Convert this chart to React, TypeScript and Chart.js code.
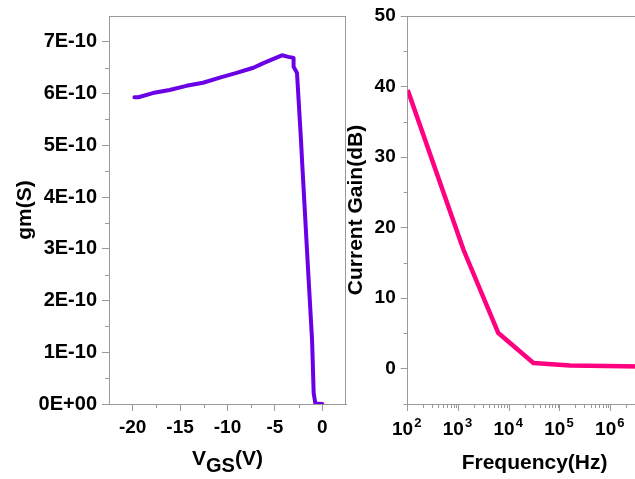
import React, { useEffect, useRef } from 'react';
import { Chart, registerables } from 'chart.js';

Chart.register(...registerables);

// ---------- data: left panel (transconductance vs gate voltage) ----------
const vgs = [-19.82, -19.4, -17.88, -16.11, -14.34, -12.58, -10.81, -9.04, -7.27, -6.21, -5.15, -4.26, -3.56, -3.03, -3.03, -2.67, -2.25, -2.14, -1.44, -1.08, -0.91, -0.73, 0];
const gm = [5.93e-10, 5.93e-10, 6.01e-10, 6.07e-10, 6.15e-10, 6.21e-10, 6.31e-10, 6.4e-10, 6.5e-10, 6.59e-10, 6.67e-10, 6.74e-10, 6.71e-10, 6.69e-10, 6.52e-10, 6.4e-10, 5.11e-10, 4.72e-10, 2.4e-10, 1.24e-10, 0.21e-10, 0.01e-10, 0];
const vgsTicks = [-20, -15, -10, -5, 0];
const vgsTickLabels = ['-20', '-15', '-10', '-5', '0'];
const vgsMinorTicks = [-17.5, -12.5, -7.5, -2.5];
const gmTicks = [0, 1e-10, 2e-10, 3e-10, 4e-10, 5e-10, 6e-10, 7e-10];
const gmTickLabels = ['0E+00', '1E-10', '2E-10', '3E-10', '4E-10', '5E-10', '6E-10', '7E-10'];
const gmMinorTicks = [0.5e-10, 1.5e-10, 2.5e-10, 3.5e-10, 4.5e-10, 5.5e-10, 6.5e-10];

// ---------- data: right panel (current gain vs frequency) ----------
const freq = [100, 1250, 6100, 30000, 158000, 800000, 4000000];
const gain = [39.5, 16.9, 5.06, 0.8, 0.47, 0.38, 0.32];
const freqTicks = [1e2, 1e3, 1e4, 1e5, 1e6, 1e7];
const freqTickBase = ['10', '10', '10', '10', '10', '10'];
const freqTickExp = ['2', '3', '4', '5', '6', '7'];
const freqMinorTicks = [
  200, 300, 400, 500, 600, 700, 800, 900,
  2000, 3000, 4000, 5000, 6000, 7000, 8000, 9000,
  20000, 30000, 40000, 50000, 60000, 70000, 80000, 90000,
  200000, 300000, 400000, 500000, 600000, 700000, 800000, 900000,
  2000000, 3000000, 4000000, 5000000, 6000000, 7000000, 8000000, 9000000,
];
const gainTicks = [0, 10, 20, 30, 40, 50];
const gainTickLabels = ['0', '10', '20', '30', '40', '50'];
const gainMinorTicks = [-5, 5, 15, 25, 35, 45];

// ---------- styles ----------
const FAMILY = "'Liberation Sans', Arial, sans-serif";
const FRAME = '#9a9a9a';
const PURPLE = '#6a00e6';
const PINK = '#ff0080';
const TICK_FONT = { family: FAMILY, size: 19, weight: 'bold' as const };
const YTICK_FONT = { family: FAMILY, size: 20, weight: 'bold' as const };
const TITLE_FONT = { family: FAMILY, size: 21, weight: 'bold' as const };

function framePlugin(sides: { top: boolean; right: boolean }, minorX: number[], minorY: number[]) {
  return {
    id: 'frameMinor',
    afterDraw(chart: any) {
      const { ctx, chartArea: a, scales } = chart;
      ctx.save();
      ctx.strokeStyle = FRAME;
      ctx.lineWidth = 1;
      ctx.beginPath();
      if (sides.top) {
        ctx.moveTo(a.left, Math.round(a.top) + 0.5);
        ctx.lineTo(a.right, Math.round(a.top) + 0.5);
      }
      if (sides.right) {
        ctx.moveTo(Math.round(a.right) - 0.5, a.top);
        ctx.lineTo(Math.round(a.right) - 0.5, a.bottom);
      }
      for (const v of minorX) {
        const px = Math.round(scales.x.getPixelForValue(v)) + 0.5;
        ctx.moveTo(px, a.bottom);
        ctx.lineTo(px, a.bottom + 4);
      }
      for (const v of minorY) {
        const py = Math.round(scales.y.getPixelForValue(v)) + 0.5;
        ctx.moveTo(a.left - 4, py);
        ctx.lineTo(a.left, py);
      }
      ctx.stroke();
      ctx.restore();
    },
  };
}

const vgsTitlePlugin = {
  id: 'vgsTitle',
  afterDraw(chart: any) {
    const { ctx, chartArea: a } = chart;
    ctx.save();
    ctx.fillStyle = '#000';
    ctx.textBaseline = 'alphabetic';
    ctx.textAlign = 'left';
    const big = `bold 21px ${FAMILY}`;
    const sub = `bold 20px ${FAMILY}`;
    ctx.font = big;
    const w1 = ctx.measureText('V').width;
    const w3 = ctx.measureText('(V)').width;
    ctx.font = sub;
    const w2 = ctx.measureText('GS').width;
    const cx = (a.left + a.right) / 2;
    let x = cx - (w1 + w2 + w3) / 2;
    const base = a.bottom + 61;
    ctx.font = big;
    ctx.fillText('V', x, base);
    x += w1;
    ctx.font = sub;
    ctx.fillText('GS', x, base + 7);
    x += w2;
    ctx.font = big;
    ctx.fillText('(V)', x, base);
    ctx.restore();
  },
};

// power-of-ten tick labels with a raised exponent
const freqLabelPlugin = {
  id: 'freqLabels',
  afterDraw(chart: any) {
    const { ctx, chartArea: a, scales } = chart;
    ctx.save();
    ctx.fillStyle = '#000';
    ctx.textBaseline = 'alphabetic';
    ctx.textAlign = 'left';
    const base = `bold 19px ${FAMILY}`;
    const sup = `bold 13px ${FAMILY}`;
    freqTicks.forEach((v, i) => {
      const px = scales.x.getPixelForValue(v);
      ctx.font = base;
      const wb = ctx.measureText(freqTickBase[i]).width;
      ctx.font = sup;
      const we = ctx.measureText(freqTickExp[i]).width;
      let x = px - (wb + 1 + we) / 2 - 1;
      ctx.font = base;
      ctx.fillText(freqTickBase[i], x, a.bottom + 31);
      x += wb + 1;
      ctx.font = sup;
      ctx.fillText(freqTickExp[i], x, a.bottom + 23);
    });
    ctx.restore();
  },
};

const gridOpts = {
  display: true,
  drawOnChartArea: false,
  drawTicks: true,
  tickLength: 7,
  tickColor: FRAME,
  color: FRAME,
  lineWidth: 1,
};
const borderOpts = { display: true, color: FRAME, width: 1 };

export default function App() {
  const leftRef = useRef<HTMLCanvasElement>(null);
  const rightRef = useRef<HTMLCanvasElement>(null);

  useEffect(() => {
    const left = new Chart(leftRef.current!, {
      type: 'scatter',
      data: {
        datasets: [
          {
            data: vgs.map((x, i) => ({ x, y: gm[i] })),
            showLine: true,
            borderColor: PURPLE,
            backgroundColor: PURPLE,
            borderWidth: 4,
            pointRadius: 0,
            tension: 0,
            borderJoinStyle: 'round',
            borderCapStyle: 'round',
          } as any,
        ],
      },
      options: {
        animation: false,
        responsive: false,
        events: [],
        layout: { padding: { left: 0, top: 16, right: 4, bottom: 0 } },
        plugins: { legend: { display: false }, tooltip: { enabled: false } },
        scales: {
          x: {
            type: 'linear',
            min: -22.5,
            max: 2.5,
            afterBuildTicks: (s: any) => {
              s.ticks = vgsTicks.map((v) => ({ value: v }));
            },
            afterFit: (s: any) => {
              s.height = 75;
              s.paddingLeft = 0;
              s.paddingRight = 0;
            },
            grid: gridOpts,
            border: borderOpts,
            ticks: {
              padding: 5,
              color: '#000',
              font: TICK_FONT,
              maxRotation: 0,
              autoSkip: false,
              callback: (_v: any, i: number) => vgsTickLabels[i],
            },
          },
          y: {
            type: 'linear',
            min: 0,
            max: 7.5e-10,
            afterBuildTicks: (s: any) => {
              s.ticks = gmTicks.map((v) => ({ value: v }));
            },
            afterFit: (s: any) => {
              s.width = 109;
              s.paddingTop = 0;
              s.paddingBottom = 0;
            },
            grid: gridOpts,
            border: borderOpts,
            title: {
              display: true,
              text: 'gm(S)',
              color: '#000',
              font: TITLE_FONT,
              padding: { top: 12.4, bottom: 0 },
            },
            ticks: {
              padding: 5,
              color: '#000',
              font: YTICK_FONT,
              autoSkip: false,
              callback: (_v: any, i: number) => gmTickLabels[i],
            },
          },
        },
      } as any,
      plugins: [framePlugin({ top: true, right: true }, vgsMinorTicks, gmMinorTicks), vgsTitlePlugin],
    });

    const right = new Chart(rightRef.current!, {
      type: 'scatter',
      data: {
        datasets: [
          {
            data: freq.map((x, i) => ({ x, y: gain[i] })),
            showLine: true,
            borderColor: PINK,
            backgroundColor: PINK,
            borderWidth: 4.5,
            pointRadius: 0,
            tension: 0,
            borderJoinStyle: 'round',
            borderCapStyle: 'butt',
          } as any,
        ],
      },
      options: {
        animation: false,
        responsive: false,
        events: [],
        layout: { padding: { left: 0, top: 16, right: 28.5, bottom: 0 } },
        plugins: { legend: { display: false }, tooltip: { enabled: false } },
        scales: {
          x: {
            type: 'logarithmic',
            min: 100,
            max: 1e7,
            afterBuildTicks: (s: any) => {
              s.ticks = freqTicks.map((v) => ({ value: v, major: true }));
            },
            afterFit: (s: any) => {
              s.height = 75;
              s.paddingLeft = 0;
              s.paddingRight = 0;
            },
            grid: gridOpts,
            border: borderOpts,
            title: {
              display: true,
              text: 'Frequency(Hz)',
              color: '#000',
              font: TITLE_FONT,
              padding: { top: 0, bottom: 3.4 },
            },
            ticks: {
              display: false,
              padding: 5,
              font: TICK_FONT,
              maxRotation: 0,
              autoSkip: false,
            },
          },
          y: {
            type: 'linear',
            min: -5,
            max: 50,
            afterBuildTicks: (s: any) => {
              s.ticks = gainTicks.map((v) => ({ value: v }));
            },
            afterFit: (s: any) => {
              s.width = 67.7;
              s.paddingTop = 0;
              s.paddingBottom = 0;
            },
            grid: gridOpts,
            border: borderOpts,
            title: {
              display: true,
              text: 'Current Gain(dB)',
              color: '#000',
              font: TITLE_FONT,
              padding: { top: 4.1, bottom: 0 },
            },
            ticks: {
              padding: 5,
              color: '#000',
              font: TICK_FONT,
              autoSkip: false,
              callback: (_v: any, i: number) => gainTickLabels[i],
            },
          },
        },
      } as any,
      plugins: [framePlugin({ top: true, right: false }, freqMinorTicks, gainMinorTicks), freqLabelPlugin],
    });

    return () => {
      left.destroy();
      right.destroy();
    };
  }, []);

  return (
    <div
      style={{
        position: 'fixed',
        left: 0,
        top: 0,
        width: 635,
        height: 479,
        overflow: 'hidden',
        background: '#fff',
      }}
    >
      <canvas
        ref={leftRef}
        width={350}
        height={479}
        style={{ position: 'absolute', left: 0, top: 0, width: 350, height: 479, display: 'block' }}
      />
      <canvas
        ref={rightRef}
        width={350}
        height={479}
        style={{ position: 'absolute', left: 340, top: 0, width: 350, height: 479, display: 'block' }}
      />
    </div>
  );
}
